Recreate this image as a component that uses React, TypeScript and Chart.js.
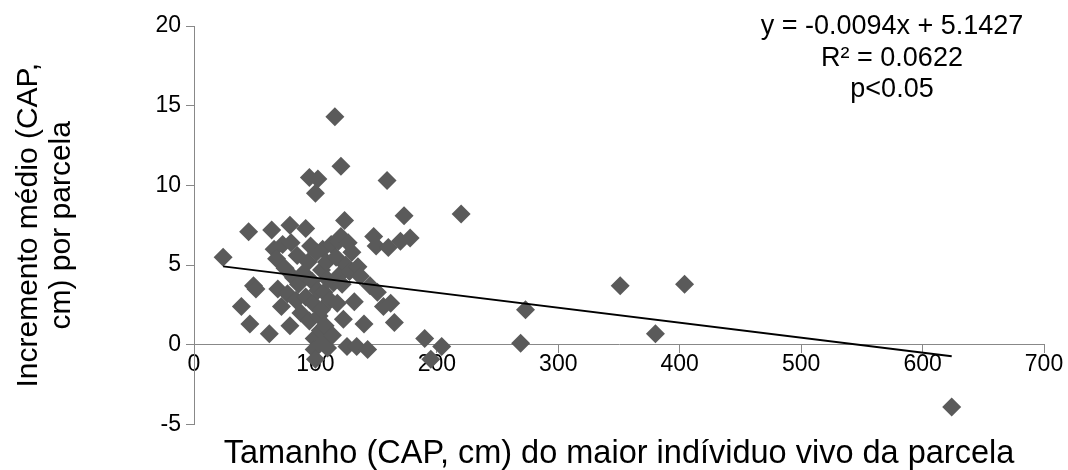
import React, { useEffect, useRef } from "react";
import { Chart, registerables } from "chart.js";

Chart.register(...registerables);

// Scatter data: largest live tree size (CAP, cm) vs mean increment per plot
const plotX = [
  24, 45, 39, 46, 49, 51, 62, 64, 66, 68, 69, 72, 73, 75, 77, 79, 79, 80, 82, 84,
  85, 86, 88, 90, 92, 92, 94, 95, 95, 96, 97, 98, 99, 99, 100, 100, 101, 102, 102, 103,
  104, 105, 105, 106, 107, 107, 108, 109, 110, 110, 112, 113, 114, 115, 116, 117, 118, 119, 120, 121,
  121, 122, 123, 124, 125, 126, 127, 128, 130, 132, 134, 135, 137, 140, 143, 145, 148, 150, 151, 156,
  159, 160, 162, 165, 170, 173, 178, 190, 195, 204, 220, 269, 273, 351, 380, 404, 624,
];
const plotY = [
  5.5, 7.1, 2.4, 1.3, 3.7, 3.5, 0.7, 7.2, 6.0, 5.4, 3.5, 2.4, 6.3, 4.8, 3.2, 7.5, 1.2, 6.4, 4.2, 2.8,
  5.6, 3.8, 2.0, 4.5, 7.3, 3.0, 5.2, 10.5, 1.5, 6.2, 4.0, 2.6, 0.4, -0.3, 9.5, -0.9, 5.8, 10.4, 3.4, 1.8,
  0.9, 4.7, 2.2, 6.0, 3.3, 0.2, 1.2, 5.2, 4.1, -0.2, 2.8, 6.3, 0.6, 3.9, 14.3, 5.5, 2.6, 6.5, 4.4, 11.2,
  6.8, 3.8, 1.6, 7.8, 5.0, -0.1, 6.4, 4.6, 5.8, 2.7, -0.1, 4.9, 4.3, 1.3, -0.3, 3.7, 6.8, 6.2, 3.3, 2.4,
  10.3, 6.1, 2.6, 1.4, 6.5, 8.1, 6.7, 0.4, -0.9, -0.1, 8.2, 0.1, 2.2, 3.7, 0.7, 3.8, -3.9,
];

// Linear trend line end points (y = -0.0094x + 5.1427)
const trendX = [24, 624];
const trendY = [4.92, -0.72];

// Axis ranges / ticks
const xMin = 0;
const xMax = 700;
const xStep = 100;
const yMin = -5;
const yMax = 20;
const yStep = 5;

// Texts
const xTitle = "Tamanho (CAP, cm) do maior indíviduo vivo da parcela";
const yTitle = ["Incremento médio (CAP,", "cm) por parcela"];
const equationLines = ["y = -0.0094x + 5.1427", "R² = 0.0622", "p<0.05"];

const FONT = '"Liberation Sans", Arial, sans-serif';

export default function App() {
  const ref = useRef<HTMLCanvasElement | null>(null);

  useEffect(() => {
    const canvas = ref.current;
    if (!canvas) return;

    const equationPlugin = {
      id: "equationText",
      afterDraw(chart: any) {
        const ctx = chart.ctx;
        ctx.save();
        ctx.fillStyle = "#000000";
        ctx.font = `27px ${FONT}`;
        ctx.textAlign = "center";
        ctx.textBaseline = "middle";
        const cx = 892;
        const y0 = 27;
        const lh = 31.5;
        equationLines.forEach((t, i) => ctx.fillText(t, cx, y0 + i * lh));
        ctx.restore();
      },
    };

    const chart = new Chart(canvas, {
      type: "scatter",
      data: {
        datasets: [
          {
            type: "line",
            data: trendX.map((x, i) => ({ x, y: trendY[i] })),
            borderColor: "#000000",
            borderWidth: 2,
            pointRadius: 0,
            fill: false,
            tension: 0,
          } as any,
          {
            data: plotX.map((x, i) => ({ x, y: plotY[i] })),
            pointStyle: "rectRot",
            pointRadius: 9.5,
            pointBackgroundColor: "#5a5a5a",
            pointBorderWidth: 0,
            backgroundColor: "#5a5a5a",
            borderColor: "#5a5a5a",
          },
        ],
      },
      options: {
        responsive: false,
        animation: false,
        layout: { padding: { left: 0, right: 24, top: 26, bottom: 0 } },
        plugins: {
          legend: { display: false },
          tooltip: { enabled: false },
          title: {
            display: true,
            text: xTitle,
            position: "bottom",
            fullSize: false,
            color: "#000000",
            font: { family: FONT, size: 32.5, weight: "normal", lineHeight: 1 },
            padding: { top: 13, bottom: 0 },
          },
        },
        scales: {
          x: {
            type: "linear",
            min: xMin,
            max: xMax,
            position: { y: 0 } as any,
            afterFit: (s: any) => {
              s.height = 0;
            },
            ticks: {
              stepSize: xStep,
              color: "#000000",
              font: { family: FONT, size: 23, lineHeight: 1 },
              padding: 0,
              maxRotation: 0,
            },
            grid: {
              display: true,
              drawOnChartArea: false,
              drawTicks: true,
              tickLength: 8,
              color: "#888888",
            },
            border: { display: true, color: "#888888", width: 1 },
          },
          y: {
            type: "linear",
            min: yMin,
            max: yMax,
            afterFit: (s: any) => {
              s.width = 194;
            },
            ticks: {
              stepSize: yStep,
              color: "#000000",
              font: { family: FONT, size: 23 },
              padding: 5,
            },
            grid: {
              display: true,
              drawOnChartArea: false,
              drawTicks: true,
              tickLength: 8,
              color: "#888888",
            },
            border: { display: true, color: "#888888", width: 1 },
            title: {
              display: true,
              text: yTitle,
              color: "#000000",
              font: { family: FONT, size: 30, lineHeight: 1.1 },
              padding: { top: 12, bottom: 0 },
            },
          },
        },
      },
      plugins: [equationPlugin],
    });

    return () => chart.destroy();
  }, []);

  return (
    <div style={{ position: "absolute", left: 0, top: 0, width: 1068, height: 470, background: "#ffffff" }}>
      <canvas ref={ref} width={1068} height={470} style={{ display: "block" }} />
    </div>
  );
}
